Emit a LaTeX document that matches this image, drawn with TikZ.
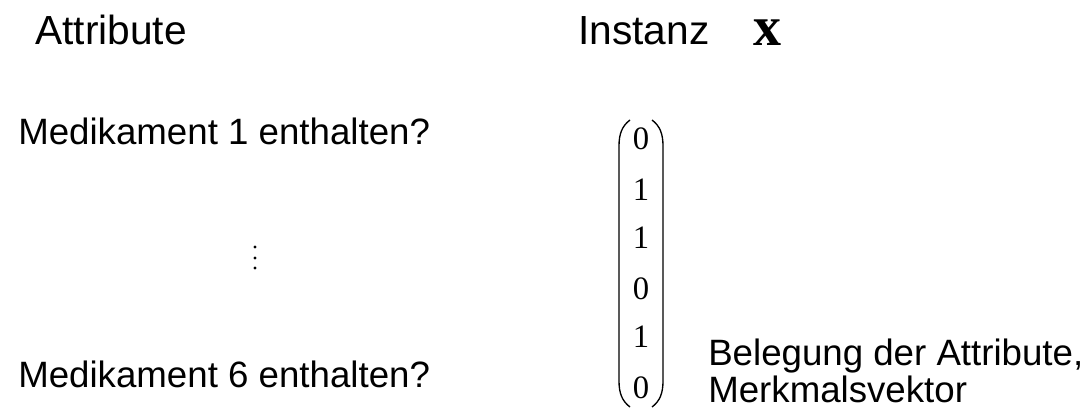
\documentclass[tikz,border=0pt]{standalone}
\usepackage{fontspec}
\setmainfont{Liberation Sans}
\newfontfamily\serifx{Liberation Serif}
\begin{document}
\begin{tikzpicture}[x=0.75pt,y=-0.75pt,
  head/.style={anchor=base west,inner sep=0pt,font=\fontsize{30.5pt}{36pt}\selectfont},
  lbl/.style={anchor=base west,inner sep=0pt,font=\fontsize{27.5pt}{33pt}\selectfont},
  digit/.style={anchor=base,inner sep=0pt,font=\serifx\fontsize{24.5pt}{29pt}\selectfont},
  paren/.style={line width=1pt},
  dot/.style={fill=black,draw=none}]
\useasboundingbox[fill=white] (0,0) rectangle (1088,417);
\node[head] (attr) at (35,45) {Attribute};
\node[head] (inst) at (578,45) {Instanz};
\node[anchor=base west,inner sep=0pt,font=\serifx\bfseries\fontsize{42pt}{48pt}\selectfont] (xb) at (753,46) {x};
\node[lbl] (m1) at (18,145) {Medikament 1 enthalten?};
\node[lbl] (m6) at (18,387) {Medikament 6 enthalten?};
\fill[dot] (255,247) circle (1.7);
\fill[dot] (255,258) circle (1.7);
\fill[dot] (255,268) circle (1.7);
\node[digit] (d1) at (641,150) {0};
\node[digit] (d2) at (641,200) {1};
\node[digit] (d3) at (641,248) {1};
\node[digit] (d4) at (641,299) {0};
\node[digit] (d5) at (641,347) {1};
\node[digit] (d6) at (641,398) {0};
\draw[paren] (630,120) .. controls (622,126) and (619,134) .. (619,146) -- (619,381) .. controls (619,393) and (622,401) .. (630,407);
\draw[paren] (652,120) .. controls (660,126) and (663,134) .. (663,146) -- (663,381) .. controls (663,393) and (660,401) .. (652,407);
\node[lbl] (bel1) at (708,365) {Belegung der Attribute,};
\node[lbl] (bel2) at (708,402) {Merkmalsvektor};
\end{tikzpicture}
\end{document}
